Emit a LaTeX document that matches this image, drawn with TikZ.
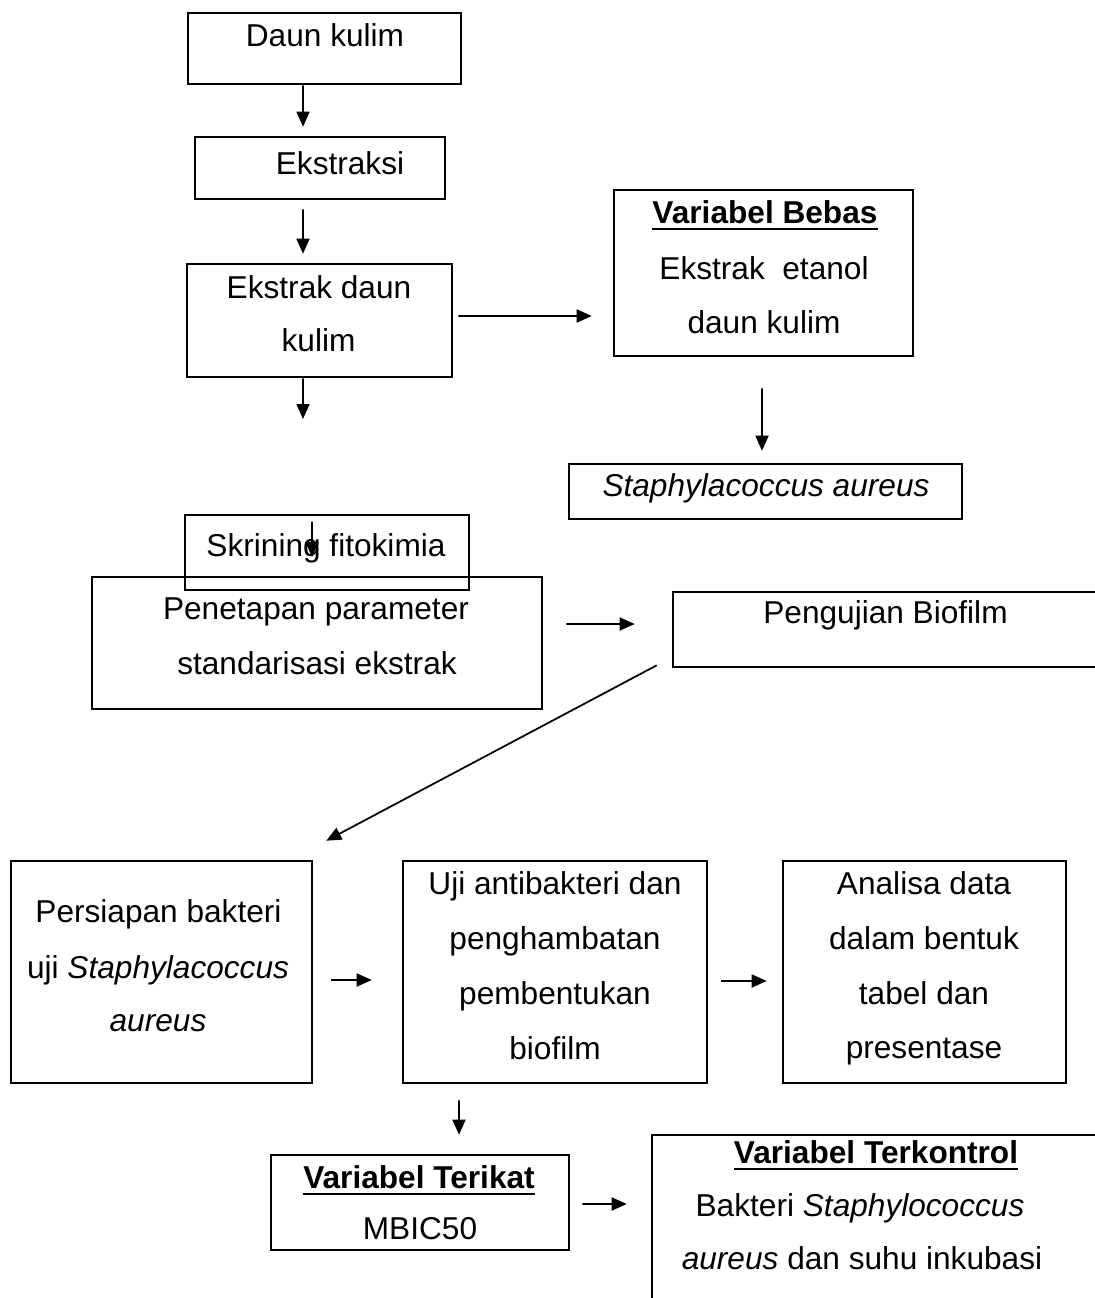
\documentclass[tikz,border=0pt]{standalone}
\usepackage{fontspec}
\setmainfont{Liberation Sans}
\usepackage{xcolor}
\usepackage{tikz}
\usetikzlibrary{calc,arrows.meta}

\tikzset{
  box/.style={draw, line width=1.5pt, inner sep=0pt},
  txt/.style={anchor=base, inner sep=0pt, font=\fontsize{18}{22}\selectfont},
  title/.style={txt, font=\fontsize{18}{22}\selectfont\bfseries},
  uline/.style={line width=1.2pt},
  arr/.style={line width=1pt, -{Triangle[length=0.3cm,width=0.26cm]}}
}

\begin{document}
\begin{tikzpicture}[x=0.02cm,y=-0.02cm]
\path[use as bounding box, clip] (0,0) rectangle (1095,1298);

\node[box, minimum width=5.46cm, minimum height=1.42cm] (daun) at (324.5,48.5) {};
\node[txt] (daunA) at (325,46) {Daun kulim};

\node[box, minimum width=5.0cm, minimum height=1.24cm] (ekstraksi) at (320,168) {};
\node[txt] (ekstraksiA) at (340,174) {Ekstraksi};

\node[box, minimum width=5.3cm, minimum height=2.26cm] (ekstrak) at (319.5,320.5) {};
\node[txt] (ekstrakA) at (319,298) {Ekstrak daun};
\node[txt] (ekstrakB) at (318.5,351) {kulim};

\node[box, minimum width=5.98cm, minimum height=3.32cm] (bebas) at (763.5,273) {};
\node[title] (bebasA) at (765,223) {Variabel Bebas};
\node[txt] (bebasB) at (764,279) {Ekstrak\ \ etanol};
\node[txt] (bebasC) at (764,333) {daun kulim};

\node[box, minimum width=7.86cm, minimum height=1.1cm] (staph) at (765.5,491.5) {};
\node[txt] (staphA) at (766,496) {\textit{Staphylacoccus aureus}};

\node[box, minimum width=5.68cm, minimum height=1.5cm] (skrining) at (327,552.5) {};
\node[txt] (skriningA) at (326,556) {Skrining fitokimia};

\node[box, minimum width=9.0cm, minimum height=2.64cm] (penetapan) at (317,643) {};
\node[txt] (penetapanA) at (316,619) {Penetapan parameter};
\node[txt] (penetapanB) at (317,674) {standarisasi ekstrak};

\node[box, minimum width=8.94cm, minimum height=1.5cm] (pengujian) at (896.5,629.5) {};
\node[txt] (pengujianA) at (885.5,623) {Pengujian Biofilm};

\node[box, minimum width=6.02cm, minimum height=4.44cm] (persiapan) at (161.5,972) {};
\node[txt] (persiapanA) at (158.5,922) {Persiapan bakteri};
\node[txt] (persiapanB) at (158,978) {uji \textit{Staphylacoccus}};
\node[txt] (persiapanC) at (158,1031) {\textit{aureus}};

\node[box, minimum width=6.08cm, minimum height=4.44cm] (uji) at (555,972) {};
\node[txt] (ujiA) at (555,894) {Uji antibakteri dan};
\node[txt] (ujiB) at (555,949) {penghambatan};
\node[txt] (ujiC) at (555,1004) {pembentukan};
\node[txt] (ujiD) at (555,1059) {biofilm};

\node[box, minimum width=5.66cm, minimum height=4.44cm] (analisa) at (924.5,972) {};
\node[txt] (analisaA) at (924,894) {Analisa data};
\node[txt] (analisaB) at (924,949) {dalam bentuk};
\node[txt] (analisaC) at (924,1004) {tabel dan};
\node[txt] (analisaD) at (924,1058) {presentase};

\node[box, minimum width=5.96cm, minimum height=1.9cm] (terikat) at (420,1202.5) {};
\node[title] (terikatA) at (419,1188) {Variabel Terikat};
\node[txt] (terikatB) at (420,1239) {MBIC50};

\node[box, minimum width=9.36cm, minimum height=3.9cm] (terkontrol) at (886,1232.5) {};
\node[title] (terkontrolA) at (876,1163) {Variabel Terkontrol};
\node[txt] (terkontrolB) at (860,1216) {Bakteri \textit{Staphylococcus}};
\node[txt] (terkontrolC) at (862,1269) {\textit{aureus} dan suhu inkubasi};

\draw[uline] ([yshift=-0.12cm]bebasA.base west) -- ([yshift=-0.12cm]bebasA.base east);
\draw[uline] ([yshift=-0.12cm]terikatA.base west) -- ([yshift=-0.12cm]terikatA.base east);
\draw[uline] ([yshift=-0.12cm]terkontrolA.base west) -- ([yshift=-0.12cm]terkontrolA.base east);

\coordinate (ekstrakEnd) at (303,419);
\coordinate (skriningEnd) at (312,557);

\draw[arr, shorten >=0.18cm] ([xshift=-0.43cm]daun.south) -- ([xshift=-0.34cm]ekstraksi.north);
\draw[arr, shorten <=0.18cm, shorten >=0.18cm] ([xshift=-0.34cm]ekstraksi.south) -- ([xshift=-0.33cm]ekstrak.north);
\draw[arr] ([xshift=-0.33cm]ekstrak.south) -- (ekstrakEnd);
\draw[arr, shorten <=0.16cm] ([xshift=-0.3cm]skrining.north) -- (skriningEnd);
\draw[arr, shorten <=0.1cm, shorten >=0.42cm] ([yshift=0.09cm]ekstrak.east) -- ([yshift=-0.86cm]bebas.west);
\draw[arr, shorten <=0.62cm, shorten >=0.24cm] ([xshift=-0.03cm]bebas.south) -- ([xshift=-0.07cm]staph.north);
\draw[arr, shorten <=0.46cm, shorten >=0.74cm] ([yshift=0.38cm]penetapan.east) -- ([yshift=0.11cm]pengujian.west);
\draw[arr] ([shift={(-15,-3)}]pengujian.south west) -- ([shift={(13,-19)}]persiapan.north east);
\draw[arr, shorten <=0.36cm, shorten >=0.6cm] ([yshift=-0.16cm]persiapan.east) -- ([yshift=-0.16cm]uji.west);
\draw[arr, shorten <=0.26cm, shorten >=0.3cm] ([yshift=-0.18cm]uji.east) -- ([yshift=-0.18cm]analisa.west);
\draw[arr, shorten <=0.32cm, shorten >=0.38cm] ([xshift=-1.92cm]uji.south) -- ([xshift=0.78cm]terikat.north);
\draw[arr, shorten <=0.24cm, shorten >=0.48cm] ([yshift=-0.03cm]terikat.east) -- ([yshift=0.57cm]terkontrol.west);
\end{tikzpicture}
\end{document}
